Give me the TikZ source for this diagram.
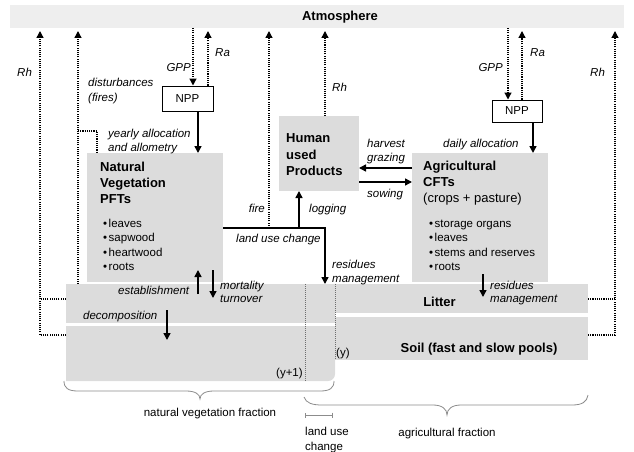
\documentclass[tikz,border=0pt]{standalone}
\usepackage{fontspec}
\setmainfont{Liberation Sans}
\usetikzlibrary{arrows.meta}
\definecolor{boxgray}{RGB}{220,220,220}
\definecolor{atmgray}{RGB}{238,238,238}
\definecolor{lgray}{RGB}{110,110,110}
\definecolor{bracegray}{RGB}{140,140,140}
\begin{document}
\begin{tikzpicture}[x=1pt,y=-1pt,
  box/.style={fill=boxgray, inner sep=0pt, outer sep=0pt, anchor=north west},
  nppbox/.style={draw, line width=1pt, fill=white, inner sep=0pt, font=\fontsize{11.5}{14}\selectfont},
  ttl/.style={font=\fontsize{13}{16}\selectfont\bfseries, inner sep=0pt, align=left, anchor=north west},
  lst/.style={font=\fontsize{11.5}{14.3}\selectfont, inner sep=0pt, align=left, anchor=north west},
  labm/.style={font=\fontsize{11.5}{14}\selectfont\itshape, inner sep=0pt, align=left, anchor=north west},
  lab/.style={font=\fontsize{11.5}{14}\selectfont\itshape, inner sep=0pt, anchor=base west},
  txt/.style={font=\fontsize{11.5}{14}\selectfont, inner sep=0pt},
  dotln/.style={line width=1.3pt, dash pattern=on 1.1pt off 1.1pt},
  dotarr/.style={dotln, -{Triangle[length=7pt,width=7pt]}},
  solarr/.style={line width=1.5pt, -{Triangle[length=7pt,width=7pt]}},
  sepln/.style={draw=lgray, line width=0.8pt, dash pattern=on 1pt off 1pt},
  bracestyle/.style={draw=bracegray, line width=0.8pt}
]
\useasboundingbox (0,0) rectangle (634,452);

% atmosphere
\node[box, fill=atmgray, minimum width=614pt, minimum height=23pt] (atm) at (10,5) {};
\node[font=\fontsize{13}{16}\selectfont\bfseries, inner sep=0pt, anchor=base] (atmlab) at (340,20.7) {Atmosphere};

% boxes
\node[box, minimum width=136pt, minimum height=129pt] (nv) at (87,153) {};
\node[box, minimum width=80pt, minimum height=75pt] (hup) at (279,116) {};
\node[box, minimum width=136pt, minimum height=129pt] (ag) at (412,153) {};
\node[box, minimum width=269pt, minimum height=39pt] (natlitter) at (66,284) {};
\node[box, fill=none, minimum width=269pt, minimum height=55pt] (natsoil) at (66,326) {};
\fill[boxgray] (natsoil.north west) -- (natsoil.north east) -- ([yshift=7pt]natsoil.south east) arc[start angle=0, end angle=-90, radius=7pt] -- (natsoil.south west) -- cycle;
\node[box, minimum width=253pt, minimum height=29pt] (aglitter) at (335,284) {};
\node[box, minimum width=253pt, minimum height=43pt] (agsoil) at (335,317) {};

% land use change strip separators
\coordinate (xLuA) at (305,0);
\coordinate (xLuB) at (335,0);
\draw[sepln] (natlitter.north -| xLuA) -- (natsoil.south -| xLuA);
\draw[sepln] (natlitter.north -| xLuB) -- (agsoil.south -| xLuB);

% box texts
\node[ttl] (nvtitle) at (100,159.7) {\rule{0pt}{12pt}Natural\\Vegetation\\PFTs};
\node[lst] (nvlist) at (103,217.3) {\rule{0pt}{10pt}•\hspace{1.5pt}leaves\\•\hspace{1.5pt}sapwood\\•\hspace{1.5pt}heartwood\\•\hspace{1.5pt}roots};
\node[ttl, font=\fontsize{13}{16.5}\selectfont\bfseries] (hutitle) at (286,130.7) {\rule{0pt}{12pt}Human\\used\\Products};
\node[ttl] (agtitle) at (423,158.7) {\rule{0pt}{12pt}Agricultural\\CFTs\\\mdseries (crops + pasture)};
\node[lst] (aglist) at (429,217.3) {\rule{0pt}{10pt}•\hspace{1.5pt}storage organs\\•\hspace{1.5pt}leaves\\•\hspace{1.5pt}stems and reserves\\•\hspace{1.5pt}roots};
\node[font=\fontsize{13}{16}\selectfont\bfseries, inner sep=0pt, anchor=base] (litterlab) at (439.5,306.7) {Litter};
\node[font=\fontsize{13}{16}\selectfont\bfseries, inner sep=0pt, anchor=base] (soillab) at (479,352.7) {Soil (fast and slow pools)};
\node[txt, anchor=base west] (yp1) at (276,376.3) {(y+1)};
\node[txt, anchor=base west] (y0) at (336,356.3) {(y)};

% NPP boxes
\node[nppbox, minimum width=51pt, minimum height=25pt] (nppL) at (187.5,98.5) {NPP};
\node[nppbox, minimum width=50pt, minimum height=22pt] (nppR) at (517,111) {NPP};

% column coordinates
\coordinate (gppL) at (193,0);
\coordinate (raL) at (208,0);
\coordinate (alL) at (198,0);
\coordinate (gppR) at (508,0);
\coordinate (raR) at (522,0);
\coordinate (alR) at (533,0);
\coordinate (xFire) at (269,0);
\coordinate (xRhM) at (325,0);
\coordinate (xLucR) at (325,0);
\coordinate (xLog) at (299,0);
\coordinate (luc) at (0,228);
\coordinate (yHarv) at (0,168);
\coordinate (ySow) at (0,182);

% left Rh
\coordinate (rhL) at (40,335);
\coordinate (rhL2) at (40,299);
\draw[dotarr, shorten >=3pt] (natsoil.west |- rhL) -- (rhL) -- (rhL |- atm.south);
\draw[dotln] (natlitter.west |- rhL2) -- (rhL2);
% disturbances
\coordinate (dst) at (78,131);
\coordinate (dst2) at (97,131);
\draw[dotarr, shorten >=3pt] (natlitter.north -| dst) -- (dst) -- (dst |- atm.south);
\draw[dotln] (dst) -- (dst2) -- (dst2 |- nv.north);
% left NPP
\draw[dotarr] (atm.south -| gppL) -- (nppL.north -| gppL);
\draw[dotarr, shorten >=3pt] (nppL.north -| raL) -- (atm.south -| raL);
\draw[solarr] (nppL.south -| alL) -- (nv.north -| alL);
% right NPP
\draw[dotarr] (atm.south -| gppR) -- (nppR.north -| gppR);
\draw[dotarr, shorten >=3pt] (nppR.north -| raR) -- (atm.south -| raR);
\draw[solarr] (nppR.south -| alR) -- (ag.north -| alR);
% right Rh
\coordinate (rhR) at (615,335);
\coordinate (rhR2) at (615,299);
\draw[dotarr, shorten >=3pt] (agsoil.east |- rhR) -- (rhR) -- (rhR |- atm.south);
\draw[dotln] (aglitter.east |- rhR2) -- (rhR2);
% middle
\draw[dotarr, shorten >=3pt] (hup.north -| xRhM) -- (atm.south -| xRhM);
\draw[solarr] (nv.east |- luc) -| (natlitter.north -| xLucR);
\draw[solarr] (xLog |- luc) -- (hup.south -| xLog);
\draw[dotarr, shorten >=3pt] (xFire |- luc) -- (atm.south -| xFire);
\draw[solarr] (ag.west |- yHarv) -- (hup.east |- yHarv);
\draw[solarr] (hup.east |- ySow) -- (ag.west |- ySow);
% small flux arrows
\coordinate (estA) at (198,294);
\coordinate (estB) at (198,270);
\coordinate (morA) at (213,270);
\coordinate (morB) at (213,298);
\coordinate (decA) at (167,310);
\coordinate (decB) at (167,340);
\coordinate (resA) at (483,274);
\coordinate (resB) at (483,297);
\draw[solarr] (estA) -- (estB);
\draw[solarr] (morA) -- (morB);
\draw[solarr] (decA) -- (decB);
\draw[solarr] (resA) -- (resB);

% labels
\node[lab] (rhLlab) at (17,76.3) {Rh};
\node[labm] (dstlab) at (88,76.3) {\rule{0pt}{10pt}disturbances\\[1pt](fires)};
\node[lab, anchor=base east] (gppLlab) at (191,71.3) {GPP};
\node[lab] (raLlab) at (215,56.3) {Ra};
\node[labm] (yalab) at (108,127.3) {\rule{0pt}{10pt}yearly allocation\\[-0.5pt]and allometry};
\node[lab, anchor=base east] (firelab) at (265,212.3) {fire};
\node[lab] (loglab) at (309,212.3) {logging};
\node[lab] (rhMlab) at (332,91.3) {Rh};
\node[lab] (luclab) at (236,242.3) {land use change};
\node[labm] (resMlab) at (332,258.3) {\rule{0pt}{10pt}residues\\management};
\node[labm] (hvlab) at (367,137.3) {\rule{0pt}{10pt}harvest\\grazing};
\node[lab] (sowlab) at (367,197.3) {sowing};
\node[lab, anchor=base east] (gppRlab) at (503,71.3) {GPP};
\node[lab] (raRlab) at (530,56.3) {Ra};
\node[lab] (dalab) at (443,147.3) {daily allocation};
\node[lab] (rhRlab) at (590,76.3) {Rh};
\node[labm] (resRlab) at (490,279.3) {\rule{0pt}{10pt}residues\\[-1pt]management};
\node[lab] (estlab) at (118,294.3) {establishment};
\node[labm] (mortlab) at (220,279.3) {\rule{0pt}{10pt}mortality\\[-1pt]turnover};
\node[lab] (declab) at (83,319.3) {decomposition};
\node[txt, anchor=base] (nvflab) at (210,416.3) {natural vegetation fraction};
\node[txt, anchor=base] (agflab) at (447,436.3) {agricultural fraction};
\node[txt, align=left, anchor=north west, font=\fontsize{11.5}{15}\selectfont] (luflab) at (305,425.3) {\rule{0pt}{10pt}land use\\change};

% braces
\draw[bracestyle] (64,381) .. controls (64,388) and (68,391) .. (78,391) -- (186,391) .. controls (195,391) and (200,394) .. (200,399) .. controls (200,394) and (205,391) .. (214,391) -- (320,391) .. controls (330,391) and (334,388) .. (334,381);
\draw[bracestyle] (304,397) .. controls (306,403) and (312,405) .. (322,405) -- (433,405) .. controls (442,405) and (447,409) .. (447,415) .. controls (447,409) and (452,405) .. (461,405) -- (572,405) .. controls (582,405) and (587,402) .. (588,395);
\draw[draw=bracegray, line width=0.6pt, {Bar[width=5pt]}-{Bar[width=5pt]}] (305,415) -- (333,415);
\end{tikzpicture}
\end{document}
